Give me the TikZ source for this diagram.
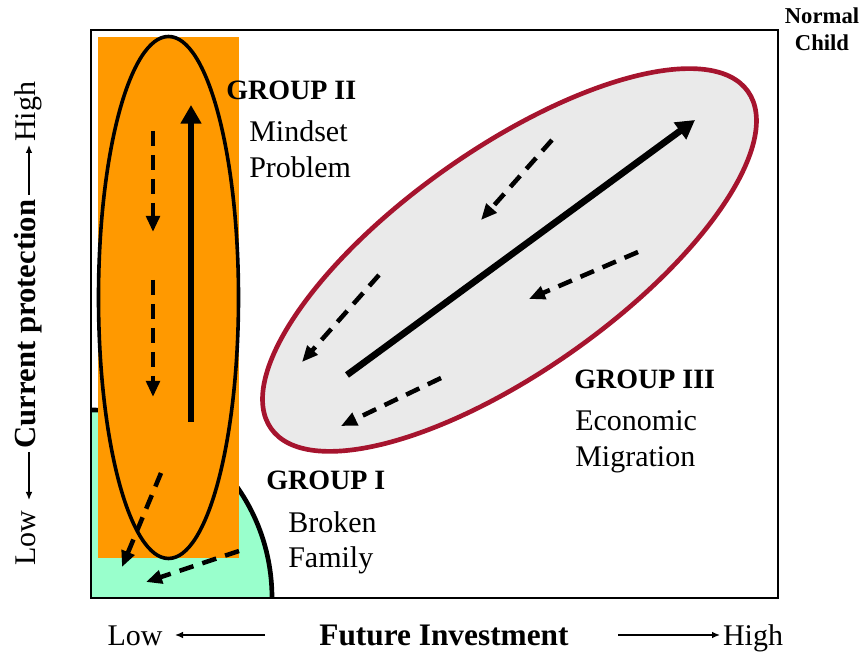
\documentclass[tikz,border=0pt]{standalone}
\usepackage{fontspec}
\setmainfont{Liberation Serif}
\usetikzlibrary{arrows.meta}
\definecolor{orangefill}{RGB}{255,153,0}
\definecolor{mintfill}{RGB}{153,255,204}
\definecolor{grayfill}{RGB}{234,234,234}
\definecolor{darkred}{RGB}{166,20,46}
\begin{document}
\begin{tikzpicture}[x=0.75pt, y=0.75pt,
    grp/.style={font=\fontsize{21}{25}\selectfont\bfseries, anchor=base west, inner sep=0pt},
    dsc/.style={font=\fontsize{22.5}{27}\selectfont, anchor=base west, inner sep=0pt},
    lbl/.style={font=\fontsize{22.5}{27}\selectfont, anchor=base, inner sep=0pt},
    pfeil/.style={line width=5pt, -{Triangle[length=14pt, width=15pt]}},
    strich/.style={line width=3.4pt, dash pattern=on 11pt off 7pt, -{Triangle[length=12pt, width=10pt]}},
    achse/.style={line width=1pt, -{Latex[length=6pt, width=5pt]}}]
    \useasboundingbox (0,0) rectangle (861,653);
    % Gruppe I
    \fill[mintfill] (91,55) -- (91,243) arc[start angle=90, end angle=0, x radius=181, y radius=188] -- cycle;
    \draw[line width=3.5pt] (91,243) arc[start angle=90, end angle=0, x radius=181, y radius=188];
    % Gruppe II
    \fill[orangefill] (98,95) rectangle (239,616);
    \draw[line width=2.7pt] (168.5,355.5) ellipse [x radius=70, y radius=261];
    \draw[pfeil] (191,231) -- (191,548);
    \draw[strich] (153,522) -- (153,421);
    \draw[strich] (153,373) -- (153,256);
    \draw[strich] (161,180) -- (122,86);
    \draw[strich] (239,102) -- (146,71);
    % Gruppe III
    \begin{scope}[rotate around={35.25:(509.5,393)}]
        \draw[fill=grayfill, draw=darkred, line width=3.5pt] (509.5,393) ellipse [x radius=292, y radius=111];
    \end{scope}
    \draw[pfeil] (347,278) -- (695,533);
    \draw[strich] (552,513) -- (481,433);
    \draw[strich] (379,378) -- (302,291);
    \draw[strich] (638,401) -- (529,354);
    \draw[strich] (441,275) -- (341,227);
    % Rahmen
    \draw[line width=1.6pt] (91,55) rectangle (778,623);
    % Beschriftung
    \node[grp] (g2) at (226,553) {GROUP II};
    \node[dsc] (g2a) at (249,511) {Mindset};
    \node[dsc] (g2b) at (249,475) {Problem};
    \node[grp] (g3) at (574,264) {GROUP III};
    \node[dsc] (g3a) at (575,222) {Economic};
    \node[dsc] (g3b) at (575,186) {Migration};
    \node[grp] (g1) at (266,163) {GROUP I};
    \node[dsc] (g1a) at (288,120) {Broken};
    \node[dsc] (g1b) at (288,85) {Family};
    \node[font=\fontsize{17}{20}\selectfont\bfseries, anchor=base, inner sep=0pt] (nc1) at (822,629) {Normal};
    \node[font=\fontsize{17}{20}\selectfont\bfseries, anchor=base, inner sep=0pt] (nc2) at (822,602) {Child};
    % Achsen
    \node[lbl] (xlow) at (135,7) {Low};
    \node[lbl, font=\fontsize{23.5}{28}\selectfont\bfseries] (xname) at (444,7) {Future Investment};
    \node[lbl] (xhigh) at (753,7) {High};
    \draw[achse] (265,18) -- (175,18);
    \draw[achse] (618,18) -- (720,18);
    \node[lbl, rotate=90] (ylow) at (36,115) {Low};
    \node[lbl, rotate=90, font=\fontsize{23}{27}\selectfont\bfseries] (yname) at (36,329) {Current protection};
    \node[lbl, rotate=90] (yhigh) at (36,541) {High};
    \draw[achse] (29,201) -- (29,153);
    \draw[achse] (29,458) -- (29,508);
\end{tikzpicture}
\end{document}
